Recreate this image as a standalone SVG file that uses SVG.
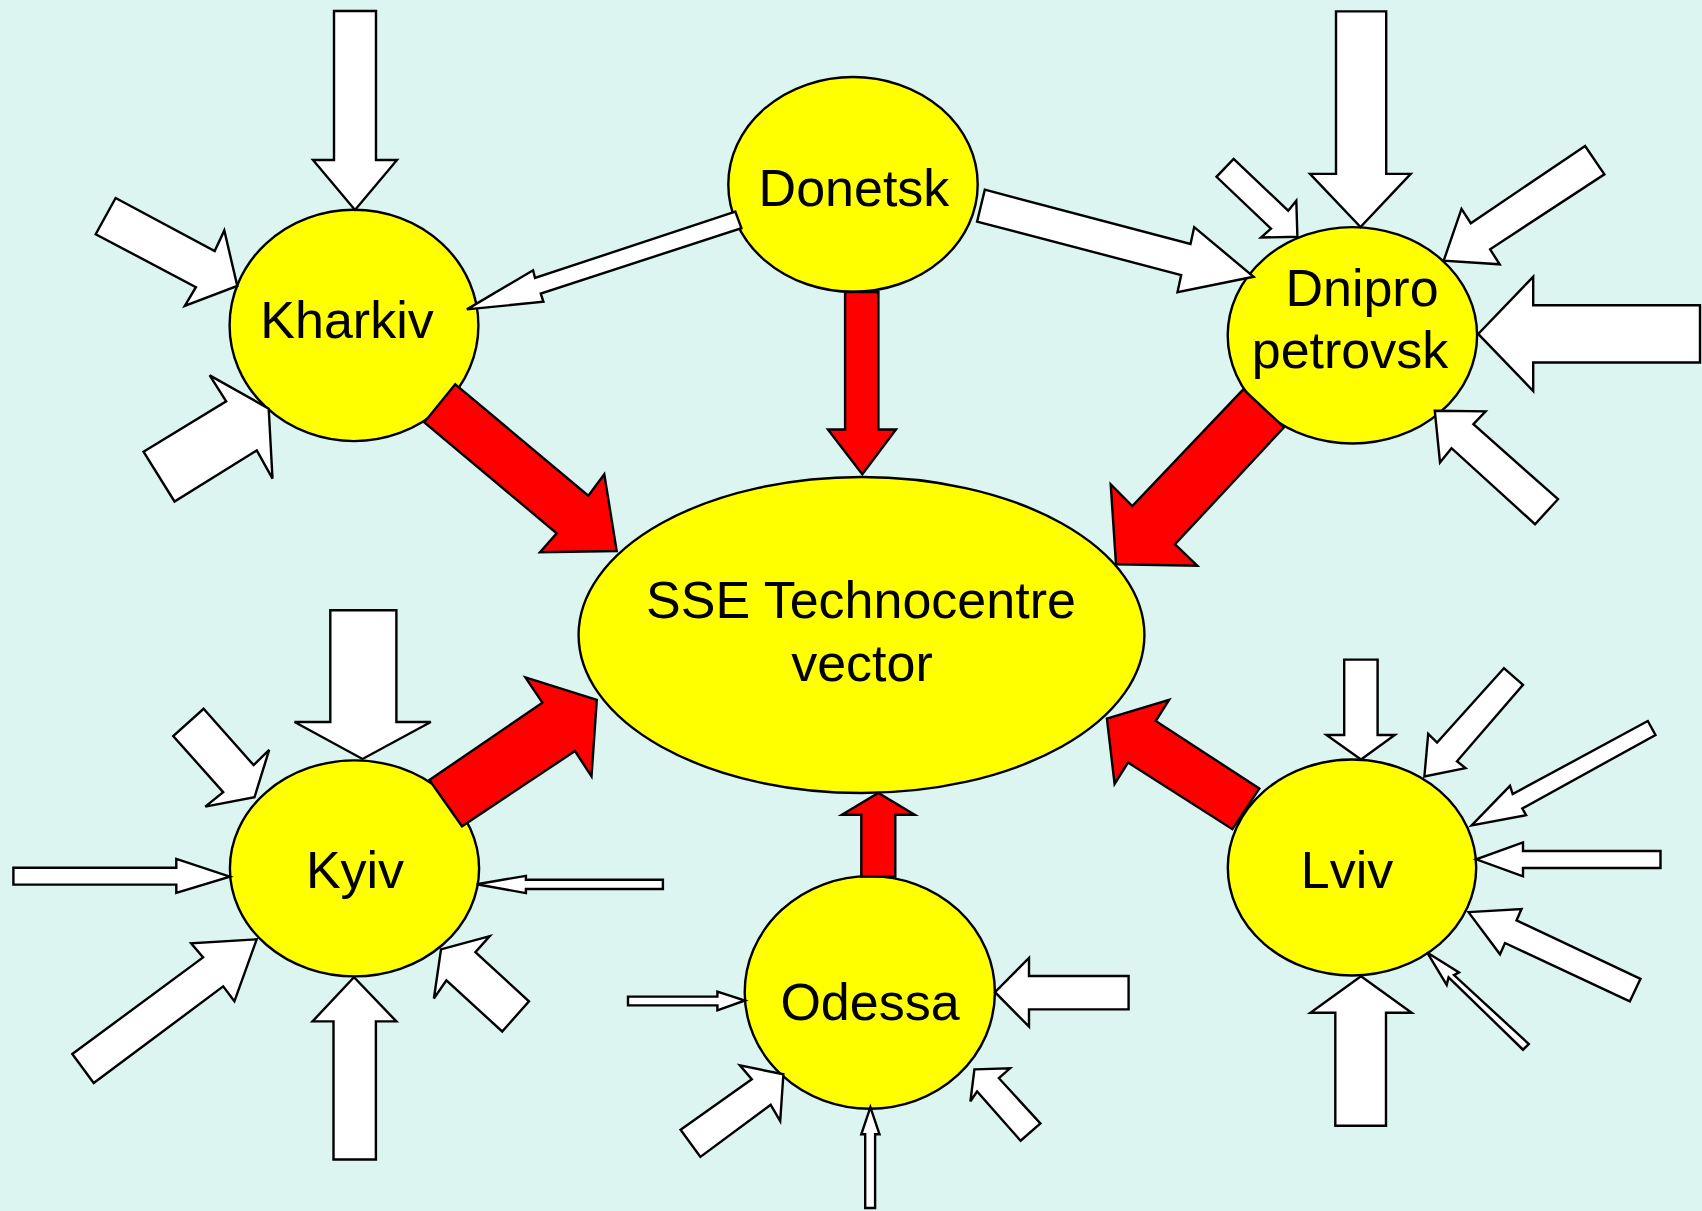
<svg xmlns="http://www.w3.org/2000/svg" width="1702" height="1211" viewBox="0 0 1702 1211">
<style>
.node{fill:#ffff00;stroke:#000;stroke-width:2.4}
.lbl{font-family:"Liberation Sans",Arial,sans-serif;font-size:52px;fill:#000;text-anchor:middle}
.w{fill:#fff;stroke:#000;stroke-width:2.4;stroke-linejoin:miter}
.r{fill:#ff0000;stroke:#000;stroke-width:2.4;stroke-linejoin:miter}
</style>
<rect width="1702" height="1211" fill="#dcf5f1"/>
<g id="node-sse"><ellipse class="node" cx="861.5" cy="635" rx="282.9" ry="158"/><text class="lbl" x="861" y="618">SSE Technocentre</text><text class="lbl" x="862" y="681">vector</text></g>
<g id="node-kharkiv"><ellipse class="node" cx="354" cy="325.4" rx="124.4" ry="115.7"/><text class="lbl" x="347" y="338">Kharkiv</text></g>
<g id="node-donetsk"><ellipse class="node" cx="853" cy="184.4" rx="124.7" ry="107.4"/><text class="lbl" x="854" y="205.6">Donetsk</text></g>
<g id="node-dnipro"><ellipse class="node" cx="1352.4" cy="335.3" rx="124.7" ry="108.2"/><text class="lbl" x="1362" y="306">Dnipro</text><text class="lbl" x="1350" y="368">petrovsk</text></g>
<g id="node-kyiv"><ellipse class="node" cx="354.5" cy="868.4" rx="124.6" ry="108"/><text class="lbl" x="355" y="888">Kyiv</text></g>
<g id="node-odessa"><ellipse class="node" cx="869.8" cy="992.4" rx="125.1" ry="116.3"/><text class="lbl" x="870" y="1020">Odessa</text></g>
<g id="node-lviv"><ellipse class="node" cx="1352" cy="867.5" rx="124.2" ry="108"/><text class="lbl" x="1347" y="888">Lviv</text></g>
<g id="connectors">
<!-- red flows into SSE -->
<polygon class="r" points="455.3,384.3 588.3,495.7 604.3,474.3 616.7,551 540,552.3 556.7,533.3 424.3,422.3"/>
<polygon class="r" points="845.1,292 878.4,292 878.4,429.5 896,429.5 862.3,474.3 827.9,429.5 845.1,429.5"/>
<polygon class="r" points="1243.3,389.3 1132.3,506 1110.7,484.3 1116,564.3 1197.3,565.7 1175,544.3 1284,427.3"/>
<polygon class="r" points="429.4,780 542.4,702.7 525.4,677.4 596.8,699.9 591.5,776.4 575,751 462,826.3"/>
<polygon class="r" points="861.3,876.6 895.3,876.6 895.3,814.7 914.7,814.7 878.3,793 841.9,814.7 861.3,814.7"/>
<polygon class="r" points="1259.3,788.5 1155.7,721 1169.1,699.9 1106.9,718.7 1114.6,784 1128,762.5 1232.4,829.2"/>
<!-- Donetsk outgoing white -->
<polygon class="w" points="735.3,211.6 535,278 533.1,270.3 466.9,309.4 543.4,301.8 540.8,293.5 741.4,228.2"/>
<polygon class="w" points="984.8,189.7 1190.5,243.9 1194.2,227.1 1253.6,276.8 1177.5,292.1 1181.2,275 977.1,221.6"/>
<!-- Kharkiv inputs -->
<polygon class="w" points="334,11 376,11 376,160 397,160 355,210 313,160 334,160"/>
<polygon class="w" points="115.6,198 214.7,251.1 224.3,230.5 237.3,285.9 184.8,305.8 195.9,287.2 95.7,234.2"/>
<polygon class="w" points="143.5,451.7 226.2,401.3 209.7,375.4 268.7,408.6 272.5,478.6 256.8,450.4 174.5,501.5"/>
<!-- Dnipro inputs -->
<polygon class="w" points="1336,11.4 1386.2,11.4 1386.2,173.9 1410.7,173.9 1360.5,227.1 1310,173.9 1336,173.9"/>
<polygon class="w" points="1233.6,158.9 1288.2,210.7 1296.3,200.7 1297.4,236.8 1261,237.5 1271,228.6 1216.5,176.8"/>
<polygon class="w" points="1585.1,146 1470.8,223.2 1461.5,208.9 1443.7,260.7 1499.7,264.3 1490.1,249.3 1604.4,174.3"/>
<polygon class="w" points="1700,305.3 1533.2,305.3 1533.2,276.8 1478.2,333.9 1533.2,391 1533.2,362.5 1700,362.5"/>
<polygon class="w" points="1434.8,410.7 1485.6,411.4 1473.4,424.2 1558,499.2 1535,524.2 1451.5,448.2 1440,462.4"/>
<!-- Kyiv inputs -->
<polygon class="w" points="330.3,610.2 396.4,610.2 396.4,722 430.8,722 362.5,759 294.6,722 330.3,722"/>
<polygon class="w" points="203.6,708.8 253.6,765.1 269.2,749.8 254.5,797.3 205.3,806.6 223.2,792.1 173.2,736.1"/>
<polygon class="w" points="13.4,867.7 176.3,867.7 176.3,858.9 229.9,876.6 176.3,893 176.3,884.6 13.4,884.6"/>
<polygon class="w" points="662.9,879.8 525.9,879.8 525.9,875.8 476.8,884.2 525.9,893.1 525.9,889 662.9,889"/>
<polygon class="w" points="72.3,1054 203.1,957.4 191.1,943.4 256.7,939.3 234.4,1001.3 223.2,986.4 93.7,1083"/>
<polygon class="w" points="333.5,1159.5 375.9,1159.5 375.9,1021.4 396.4,1021.4 354,977.2 312.5,1021.4 333.5,1021.4"/>
<polygon class="w" points="441,949.4 489.7,936.1 475.4,952.2 529,1001.3 502.2,1031.5 446.4,980.4 433.9,998.5"/>
<!-- Odessa inputs -->
<polygon class="w" points="628,996.6 717.4,996.6 717.4,991.7 745,1000.5 717.4,1010.4 717.4,1005.4 628,1005.4"/>
<polygon class="w" points="1128.6,976 1029,976 1029,957.8 995,992.2 1029,1026.6 1029,1009.4 1128.6,1009.4"/>
<polygon class="w" points="680.6,1129.8 751.8,1079.2 739.9,1065.4 783.4,1074.3 780.2,1121 770.7,1104.8 700.4,1156.9"/>
<polygon class="w" points="865.2,1208 875.1,1208 875.1,1134.3 879.5,1134.3 870.4,1107.2 861.3,1134.3 865.2,1134.3"/>
<polygon class="w" points="974.4,1069.4 1010,1068.4 998.9,1078.2 1040.4,1123.5 1020.6,1140.7 977.1,1091.5 970.4,1101.3"/>
<!-- Lviv inputs -->
<polygon class="w" points="1344.2,659.6 1377.6,659.6 1377.6,735 1394.8,735 1361,759.5 1326.5,735 1344.2,735"/>
<polygon class="w" points="1503.9,668.2 1437.1,742.5 1428.2,733.8 1424.4,776.4 1465.5,768.1 1457,761.3 1523,684.8"/>
<polygon class="w" points="1647.8,721 1512.7,794.1 1510,785.8 1471.6,825.4 1526.1,815.2 1522.3,808.5 1655.5,735"/>
<polygon class="w" points="1660.5,851 1523,851 1523,842.4 1476.2,859.3 1523,876.3 1523,868 1660.5,868"/>
<polygon class="w" points="1468.5,912.1 1521.5,909.1 1516.5,920.4 1640.5,978.8 1629.8,1001.4 1505,943 1500,954.3"/>
<polygon class="w" points="1427.1,952.4 1459,972.4 1454,975.1 1528.8,1044 1523,1049.7 1448.6,977.3 1446.7,984.8"/>
<polygon class="w" points="1335.3,1125.8 1386,1125.8 1386,1012.7 1411.7,1012.7 1361,976.2 1310.4,1012.7 1335.3,1012.7"/>
</g>
</svg>
